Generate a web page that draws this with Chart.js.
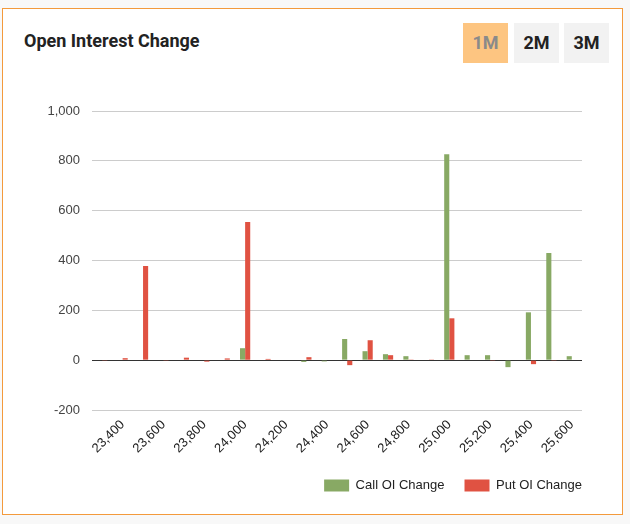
<!DOCTYPE html>
<html>
<head>
<meta charset="utf-8">
<script src="https://cdn.jsdelivr.net/npm/chart.js@4"></script>
<style>
  html, body { margin: 0; padding: 0; width: 630px; height: 524px; background: #f8f8f8; overflow: hidden; }
  #card { position: absolute; left: 2px; top: 8px; width: 619px; height: 505px; background: #fff; border: 1px solid #f39a3c; }
  #title { position: absolute; left: 21px; top: 21px; font-family: Roboto, sans-serif; font-weight: bold; font-size: 18px; color: #222; }
  .btn { position: absolute; top: 14px; height: 40px; width: 45px; line-height: 40px; text-align: center; font-family: Roboto, sans-serif; font-weight: bold; font-size: 18px; color: #222; background: #f2f2f2; }
  #b1 { left: 460px; background: #fdc581; color: #8a8a8a; }
  #b2 { left: 511px; }
  #b3 { left: 561px; }
  #wrap { position: absolute; left: 0; top: 0; width: 630px; height: 524px; }
</style>
</head>
<body>
<div id="card">
  <div id="title">Open Interest Change</div>
  <div class="btn" id="b1">1M</div>
  <div class="btn" id="b2">2M</div>
  <div class="btn" id="b3">3M</div>
</div>
<div id="wrap"><canvas id="c" width="630" height="524"></canvas></div>
<script>
const strikes = [23300, 23400, 23500, 23600, 23700, 23800, 23900, 24000, 24100, 24200, 24300, 24400,
                 24500, 24600, 24700, 24800, 24900, 25000, 25100, 25200, 25300, 25400, 25500, 25600];
const callOI = [0, 0, 0, 0, 0, 0, 0, 48, 0, 0, -7, -5,
                85, 36, 24, 16, 0, 826, 20, 20, -28, 192, 430, 16];
const putOI  = [-3, 8, 378, -3, 10, -6, 7, 555, 5, 0, 12, 0,
                -20, 80, 20, 3, 3, 168, 0, -3, 0, -16, -3, 0];
const yTicks = { min: -200, max: 1000, step: 200 };

Chart.defaults.font.family = 'Arial, "Liberation Sans", sans-serif';
Chart.defaults.font.size = 13;

const fmt = v => v.toLocaleString('en-US');
const LEGEND_GAP = 20;

const shiftLegend = {
  id: 'shiftLegend',
  afterLayout(chart) {
    if (chart.legend) { chart.legend.left += LEGEND_GAP; chart.legend.right += LEGEND_GAP; }
  }
};

new Chart(document.getElementById('c'), {
  type: 'bar',
  plugins: [shiftLegend],
  data: {
    labels: strikes.map(fmt),
    datasets: [
      { label: 'Call OI Change', data: callOI, backgroundColor: '#88a964', categoryPercentage: 0.5, barPercentage: 1.0 },
      { label: 'Put OI Change', data: putOI, backgroundColor: '#e05242', categoryPercentage: 0.5, barPercentage: 1.0 }
    ]
  },
  options: {
    responsive: false,
    animation: false,
    layout: { padding: { left: 0, right: 48, top: 111, bottom: 22 } },
    plugins: {
      legend: {
        position: 'bottom',
        align: 'end',
        labels: { boxWidth: 25, boxHeight: 12, color: '#222', font: { size: 13 }, padding: LEGEND_GAP }
      },
      tooltip: { enabled: false }
    },
    scales: {
      x: {
        grid: { display: false, drawTicks: false },
        border: { display: false },
        ticks: {
          autoSkip: false,
          minRotation: 45,
          maxRotation: 45,
          color: '#222',
          padding: 7,
          font: { size: 13 },
          callback: function (value, index) { return strikes[index] % 200 === 0 ? fmt(strikes[index]) : ''; }
        },
        afterFit: s => { s.height = 49; }
      },
      y: {
        min: yTicks.min,
        max: yTicks.max,
        ticks: { stepSize: yTicks.step, color: '#444', padding: 12, font: { size: 13 }, callback: v => fmt(v) },
        grid: { drawTicks: false, color: ctx => ctx.tick && ctx.tick.value === 0 ? '#333' : '#cccccc' },
        border: { display: false },
        afterFit: s => { s.width = 92; }
      }
    }
  }
});
</script>
</body>
</html>
